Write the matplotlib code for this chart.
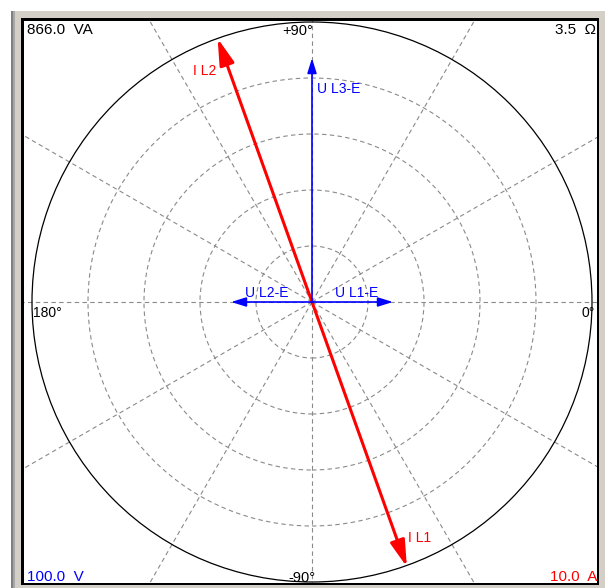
import numpy as np
import matplotlib
matplotlib.use("Agg")
import matplotlib.pyplot as plt
from matplotlib.patches import Rectangle, Circle

# ---------------- data ----------------
voltage_labels = ["U L1-E", "U L2-E", "U L3-E"]
voltage_mag = [28.9, 28.9, 87.1]          # V
voltage_angle = [0.0, 180.0, 90.0]        # deg

current_labels = ["I L1", "I L2"]
current_mag = [10.05, 10.0]               # A
current_angle = [-70.3, 109.7]            # deg

voltage_full_scale = 100.0                # V
current_full_scale = 10.0                 # A
power_text = "866.0 VA"
imped_text = "3.5 Ω"
angle_labels = ["+90°", "-90°", "180°", "0°"]
grid_rings = [0.2, 0.4, 0.6, 0.8]
grid_angles = list(range(0, 360, 30))

# ---------------- figure ----------------
W, H = 608, 588
DPI = 100
plt.rcParams["font.family"] = ["Liberation Sans", "DejaVu Sans"]
fig = plt.figure(figsize=(W / DPI, H / DPI), dpi=DPI)
fig.patch.set_facecolor("white")

def fx(x):
    return x / W

def fy(y):
    return 1 - y / H

def frect(x0, y0, x1, y1, color):
    fig.add_artist(Rectangle((fx(x0), fy(y1)), fx(x1) - fx(x0), fy(y0) - fy(y1),
                             transform=fig.transFigure, facecolor=color,
                             edgecolor="none", zorder=0))

# bevel frame
frect(11, 11, 605, 588, "#d4d0c8")
frect(11, 11, 13, 588, "#808080")
frect(13, 11, 15, 588, "#a8a8a8")
frect(21, 18, 599, 585, "black")

# plot area  (pixels x 24..597, y 21..583), centre (312, 302), radius 280
L, R, T, B = 24, 597, 21, 583
CX, CY, RAD = 312, 302, 280
ax = fig.add_axes([fx(L), fy(B), fx(R) - fx(L), fy(T) - fy(B)])
ax.set_zorder(2)
ax.set_facecolor("white")
ax.set_xlim((L - CX) / RAD, (R - CX) / RAD)
ax.set_ylim((CY - B) / RAD, (CY - T) / RAD)
ax.set_xticks([])
ax.set_yticks([])
for s in ax.spines.values():
    s.set_visible(False)

grid_kw = dict(color="#8a8a8a", lw=0.8, linestyle=(0, (4, 3)), zorder=1)
for r in grid_rings:
    ax.add_patch(Circle((0, 0), r, fill=False, **grid_kw))
for a in grid_angles:
    t = np.deg2rad(a)
    ax.plot([0, 2 * np.cos(t)], [0, 2 * np.sin(t)], **grid_kw)
ax.add_patch(Circle((0, 0), 1.0, fill=False, color="black", lw=0.9, zorder=2))

# voltage phasors (blue)
v_offsets = {"U L1-E": (-15, 5, "right"), "U L2-E": (14, 5, "left"), "U L3-E": (5, -35, "left")}
for lab, m, a in zip(voltage_labels, voltage_mag, voltage_angle):
    t = np.deg2rad(a)
    tip = (m / voltage_full_scale * np.cos(t), m / voltage_full_scale * np.sin(t))
    ax.annotate("", xy=tip, xytext=(0, 0),
                arrowprops=dict(arrowstyle="-|>,head_length=9,head_width=2.8",
                                mutation_scale=1, lw=1.2, color="#0000ff",
                                shrinkA=0, shrinkB=0), zorder=4)
    dx, dy, ha = v_offsets[lab]
    ax.annotate(lab, xy=tip, xytext=(dx * 0.72, dy * 0.72), textcoords="offset points",
                ha=ha, va="baseline", color="#0000ff", fontsize=10, zorder=5)

# current phasors (red)
c_offsets = {"I L1": (1, 25, "left"), "I L2": (-1, -37, "right")}
for lab, m, a in zip(current_labels, current_mag, current_angle):
    t = np.deg2rad(a)
    tip = (m / current_full_scale * np.cos(t), m / current_full_scale * np.sin(t))
    ax.annotate("", xy=tip, xytext=(0, 0),
                arrowprops=dict(arrowstyle="-|>,head_length=16,head_width=4.5",
                                mutation_scale=1, lw=2.2, color="#ff0000",
                                shrinkA=0, shrinkB=0), zorder=3)
    dx, dy, ha = c_offsets[lab]
    ax.annotate(lab, xy=tip, xytext=(dx * 0.72, dy * 0.72), textcoords="offset points",
                ha=ha, va="baseline", color="#ff0000", fontsize=10, zorder=5)

# angle labels and corner texts (figure pixels)
def ftext(x, y, s, ha="left", color="black", size=10):
    fig.text(fx(x), fy(y), s, ha=ha, va="baseline", color=color, fontsize=size, zorder=10)

ftext(282, 35, angle_labels[0], size=10.5)
ftext(288, 582, angle_labels[1], size=10.5)
ftext(33, 317, angle_labels[2])
ftext(582, 317, angle_labels[3])
ftext(27, 34, power_text.replace(" ", "  "), size=11)
ftext(596, 34, imped_text.replace(" ", "  "), ha="right", size=11)
ftext(27, 581, f"{voltage_full_scale:.1f}  V", color="#0000ff", size=11)
ftext(597, 581, f"{current_full_scale:.1f}  A", ha="right", color="#ff0000", size=11)

fig.savefig("out.png", dpi=DPI, facecolor="white")
